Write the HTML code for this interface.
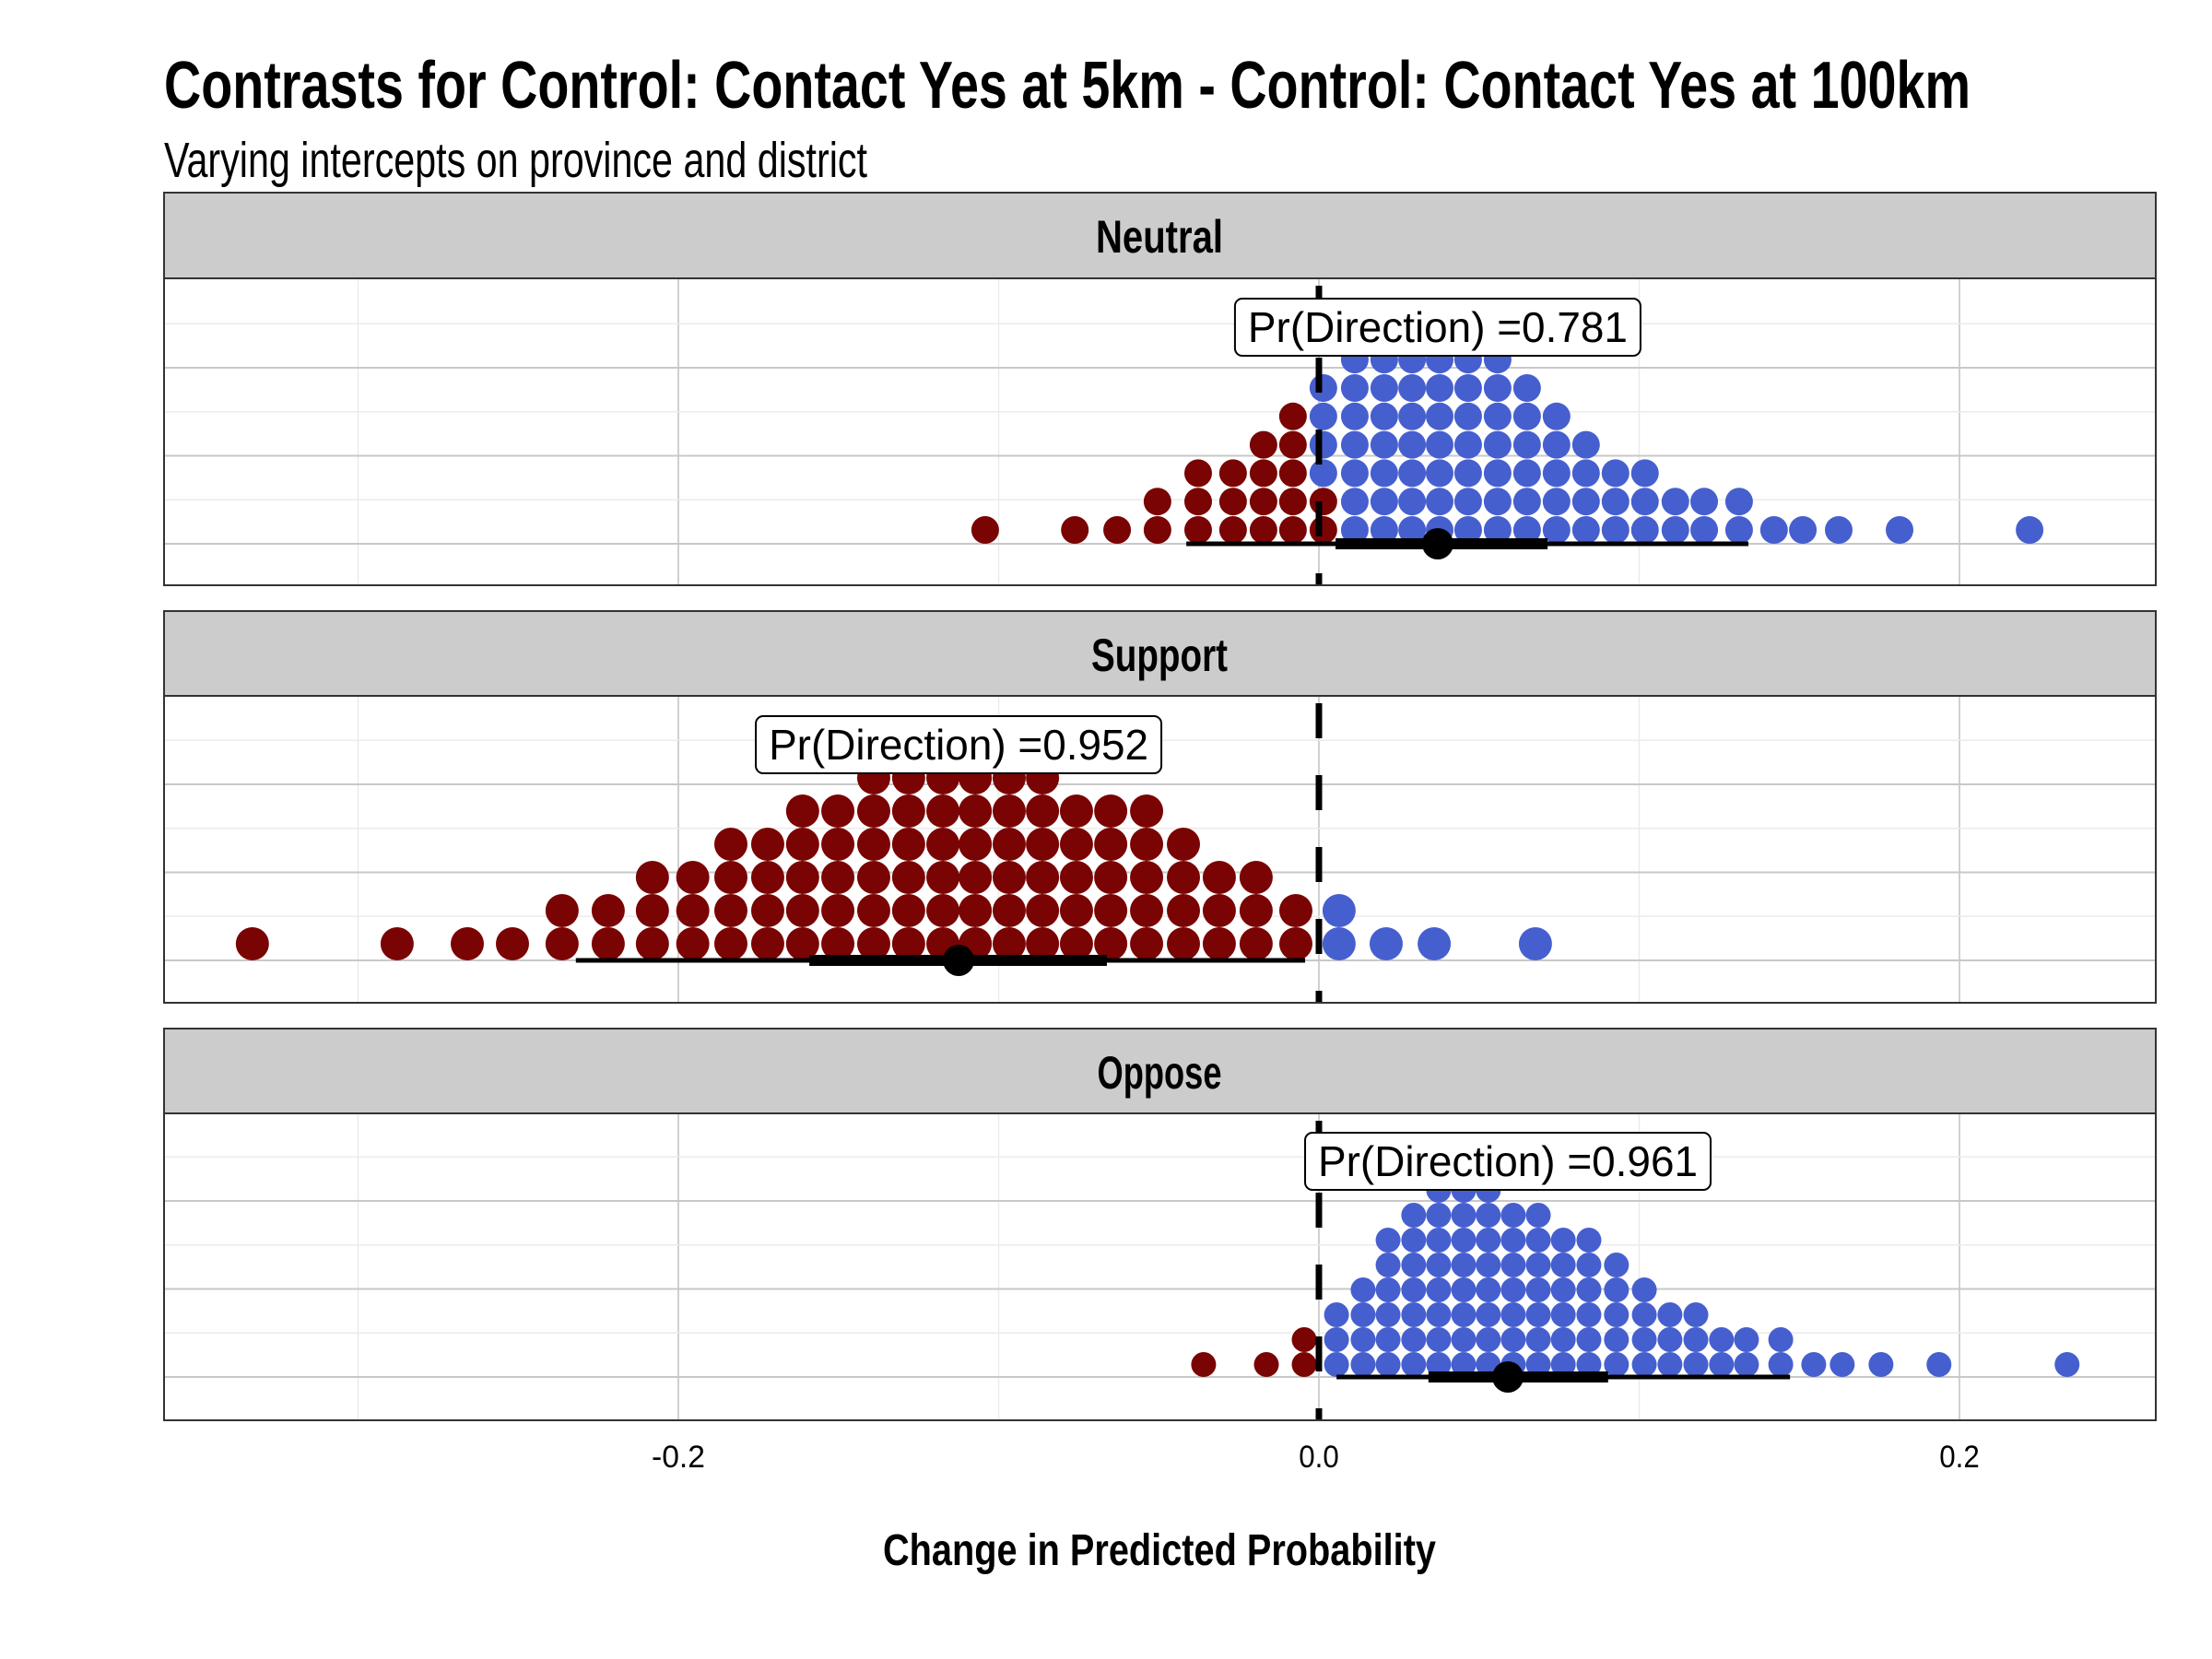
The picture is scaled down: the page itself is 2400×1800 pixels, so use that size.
<!DOCTYPE html>
<html><head><meta charset="utf-8"><style>
html,body{margin:0;padding:0;background:#fff;}
svg{display:block;}
text{font-family:"Liberation Sans Narrow","Liberation Sans",sans-serif;}
</style></head><body>
<svg id="chart" width="2400" height="1800" viewBox="0 0 2400 1800" xmlns="http://www.w3.org/2000/svg">
<rect x="0" y="0" width="2400" height="1800" fill="#fff"/>
<text x="178" y="117" font-size="72" font-weight="bold" textLength="1960" lengthAdjust="spacingAndGlyphs">Contrasts for Control: Contact Yes at 5km - Control: Contact Yes at 100km</text>
<text x="178" y="192" font-size="54" textLength="763" lengthAdjust="spacingAndGlyphs">Varying intercepts on province and district</text>
<g id="panels"></g>
<text x="1258" y="1698" font-size="48" font-weight="bold" text-anchor="middle" textLength="600" lengthAdjust="spacingAndGlyphs">Change in Predicted Probability</text>
</svg>
<script>
// ---- data ----
const panelNames = ["Neutral", "Support", "Oppose"];
const neutralX = [-0.1042,-0.0762,-0.0630,-0.0504,-0.0377,-0.0268,-0.0173,-0.0081,0.0014,0.0112,0.0204,0.0291,0.0377,0.0466,0.0558,0.0650,0.0742,0.0834,0.0926,0.1018,0.1113,0.1203,0.1312,0.1421,0.1511,0.1623,0.1813,0.2219];
const neutralRed = [1,1,1,2,3,3,4,5,2,0,0,0,0,0,0,0,0,0,0,0,0,0,0,0,0,0,0,0];
const neutralBlue = [0,0,0,0,0,0,0,0,4,7,7,7,7,7,7,6,5,4,3,3,2,2,2,1,1,1,1,1];
const supportX = [-0.3330,-0.2878,-0.2659,-0.2518,-0.2363,-0.2219,-0.2081,-0.1955,-0.1836,-0.1721,-0.1612,-0.1502,-0.1390,-0.1281,-0.1174,-0.1073,-0.0967,-0.0863,-0.0757,-0.0650,-0.0538,-0.0423,-0.0311,-0.0196,-0.0072,0.0063,0.0210,0.0360,0.0676];
const supportRed = [1,1,1,1,2,2,3,3,4,4,5,5,6,6,6,6,6,6,5,5,5,4,3,3,2,0,0,0,0];
const supportBlue = [0,0,0,0,0,0,0,0,0,0,0,0,0,0,0,0,0,0,0,0,0,0,0,0,0,2,1,1,1];
const opposeX = [-0.0360,-0.0164,-0.0046,0.0055,0.0138,0.0216,0.0296,0.0374,0.0452,0.0529,0.0607,0.0685,0.0763,0.0843,0.0929,0.1016,0.1096,0.1177,0.1257,0.1335,0.1442,0.1545,0.1634,0.1755,0.1936,0.2336];
const opposeRed = [1,1,2,0,0,0,0,0,0,0,0,0,0,0,0,0,0,0,0,0,0,0,0,0,0,0];
const opposeBlue = [0,0,0,3,4,6,7,8,8,8,7,7,6,6,5,4,3,3,2,2,2,1,1,1,1,1];
// point + intervals: [point, innerLo, innerHi, outerLo, outerHi]
const neutralInterval = [0.0371, 0.0052, 0.0714, -0.0414, 0.1341];
const supportInterval = [-0.1125, -0.1591, -0.0662, -0.2320, -0.0043];
const opposeInterval = [0.0590, 0.0342, 0.0903, 0.0055, 0.1471];
const prDirection = ["0.781", "0.952", "0.961"];
const xTickValues = [-0.2, 0.0, 0.2];
const xTickLabels = ["-0.2", "0.0", "0.2"];
const xMinorValues = [-0.3, -0.1, 0.1];

// ---- layout ----
const NS = "http://www.w3.org/2000/svg";
const plotL = 178, plotR = 2339;
const xs = v => 1431 + v * 3475;
const stripWidths = [138, 148, 135];
const panels = [
  {stripTop:209, top:302, bottom:635, base:590, r:15, dy:30.8, xs:neutralX, red:neutralRed, blue:neutralBlue, iv:neutralInterval, labelY:355},
  {stripTop:663, top:755, bottom:1088, base:1042, r:18, dy:36, xs:supportX, red:supportRed, blue:supportBlue, iv:supportInterval, labelY:808},
  {stripTop:1116, top:1208, bottom:1541, base:1494, r:13.5, dy:27, xs:opposeX, red:opposeRed, blue:opposeBlue, iv:opposeInterval, labelY:1260}
];
const root = document.getElementById("panels");
function mk(tag, attrs, parent) {
  const el = document.createElementNS(NS, tag);
  for (const k in attrs) el.setAttribute(k, attrs[k]);
  parent.appendChild(el);
  return el;
}
panels.forEach((p, i) => {
  const g = mk("g", {}, root);
  
  
  const strip = mk("rect", {x:plotL, y:p.stripTop, width:plotR-plotL, height:p.top-p.stripTop, fill:"#cccccc", stroke:"#333", "stroke-width":2}, g);
  
  
  const st = mk("text", {x:1258, y:p.stripTop+65, "font-size":50, "font-weight":"bold", "text-anchor":"middle", textLength:stripWidths[i], lengthAdjust:"spacingAndGlyphs"}, g);
  st.textContent = panelNames[i];
  
  
  xMinorValues.forEach(v => {
    const l = mk("line", {x1:xs(v), x2:xs(v), y1:p.top, y2:p.bottom, stroke:"#ebebeb", "stroke-width":1.5}, g);
    
    
  });
  xTickValues.forEach(v => {
    const l = mk("line", {x1:xs(v), x2:xs(v), y1:p.top, y2:p.bottom, stroke:"#d0d0d0", "stroke-width":2}, g);
    
    
  });
  [47.75, 143.25, 238.75].forEach(d => {
    const l = mk("line", {x1:plotL, x2:plotR, y1:p.base-d, y2:p.base-d, stroke:"#ebebeb", "stroke-width":1.5}, g);
    
    
  });
  [0, 95.5, 191].forEach(d => {
    const l = mk("line", {x1:plotL, x2:plotR, y1:p.base-d, y2:p.base-d, stroke:"#c8c8c8", "stroke-width":2}, g);
    
    
  });
  p.xs.forEach((v, j) => {
    const nR = p.red[j], nB = p.blue[j];
    for (let k = 0; k < nR + nB; k++) {
      const c = mk("circle", {cx:xs(v), cy:p.base - p.r - k*p.dy, r:p.r, fill: k < nR ? "#7a0403" : "#465fcf"}, g);
      
      
    }
  });
  const z = mk("line", {x1:xs(0), x2:xs(0), y1:p.top, y2:p.bottom, stroke:"#000", "stroke-width":7, "stroke-dasharray":"38 40", "stroke-dashoffset":"-8"}, g);
  
  
  const iv = p.iv;
  const o = mk("line", {x1:xs(iv[3]), x2:xs(iv[4]), y1:p.base, y2:p.base, stroke:"#000", "stroke-width":5}, g);
  
  
  const inn = mk("line", {x1:xs(iv[1]), x2:xs(iv[2]), y1:p.base, y2:p.base, stroke:"#000", "stroke-width":12}, g);
  
  
  const pt = mk("circle", {cx:xs(iv[0]), cy:p.base, r:17, fill:"#000"}, g);
  
  
  const lab = mk("g", {}, g);
  
  
  mk("rect", {x:xs(iv[0])-220, y:p.labelY-31, width:440, height:62, rx:8, fill:"#fff", stroke:"#000", "stroke-width":2}, lab);
  const lt = mk("text", {x:xs(iv[0]), y:p.labelY+16, "font-size":46, "text-anchor":"middle", textLength:412, lengthAdjust:"spacingAndGlyphs", style:"font-family:'Liberation Sans',sans-serif"}, lab);
  lt.textContent = "Pr(Direction) =" + prDirection[i];
  const b = mk("rect", {x:plotL, y:p.top, width:plotR-plotL, height:p.bottom-p.top, fill:"none", stroke:"#333", "stroke-width":2}, g);
  
  
});
xTickValues.forEach((v, i) => {
  const t = mk("text", {x:xs(v), y:1592, "font-size":34, "text-anchor":"middle", textLength: xTickLabels[i].length * 14.5, lengthAdjust:"spacingAndGlyphs"}, root);
  t.textContent = xTickLabels[i];
  
  
});
</script>
</body></html>
